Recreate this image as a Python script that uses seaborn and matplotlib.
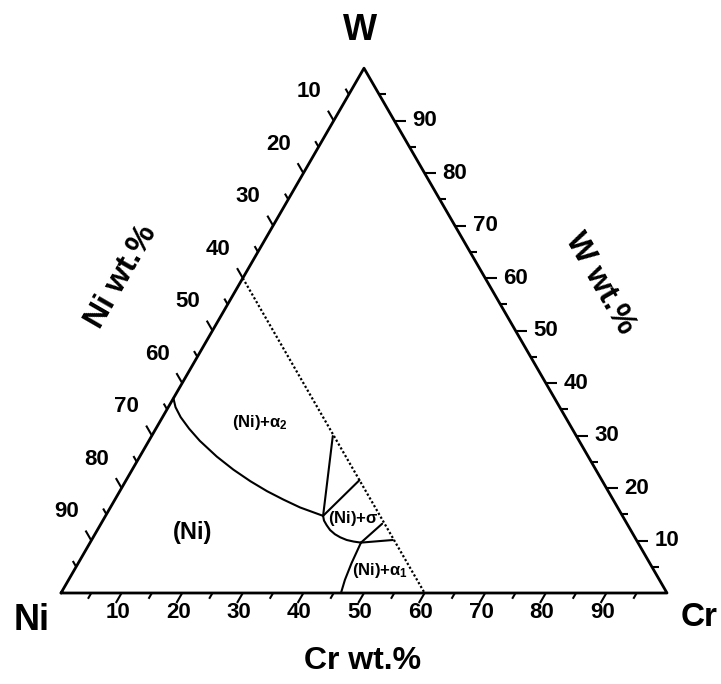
import numpy as np
import pandas as pd
import matplotlib
matplotlib.use("Agg")
import matplotlib.pyplot as plt
import seaborn as sns

sns.set_style("white")
plt.rcParams["font.family"] = ["Liberation Sans", "DejaVu Sans"]
plt.rcParams["font.weight"] = "bold"
plt.rcParams["text.color"] = "black"
plt.rcParams["mathtext.fontset"] = "custom"
for key in ("rm", "it", "bf", "sf"):
    plt.rcParams[f"mathtext.{key}"] = "Liberation Sans:bold"

# ---- data (wt.%) ----
tick_values = [10, 20, 30, 40, 50, 60, 70, 80, 90]
minor_values = [5, 15, 25, 35, 45, 55, 65, 75, 85, 95]

# (Ni) / (Ni)+alpha2 boundary
a2_cr = [0.0, 1.2, 3.0, 5.5, 8.4, 12.7, 16.7, 20.6, 24.3, 27.8, 31.3, 35.9]
a2_w = [37.1, 35.4, 33.5, 31.3, 29.0, 26.0, 23.5, 21.3, 19.4, 17.8, 16.3, 14.7]
# (Ni) / (Ni)+sigma boundary
sig_cr = [35.9, 36.5, 37.4, 38.4, 39.6, 40.8, 42.1, 43.4, 44.7]
sig_w = [14.7, 13.8, 12.9, 12.0, 11.2, 10.6, 10.1, 9.8, 9.6]
# (Ni) / (Ni)+alpha1 boundary
a1_cr = [44.7, 45.1, 45.6, 46.2]
a1_w = [9.6, 5.7, 2.5, 0.0]
# three-phase triangle edges ending on the Ni = 40 section
tie_cr = [[35.9, 29.9], [35.9, 38.5], [44.7, 46.4], [44.7, 49.7]]
tie_w = [[14.7, 29.9], [14.7, 21.5], [9.6, 13.2], [9.6, 10.1]]
# isopleth Ni = 40 wt.%
iso_cr = [0.0, 60.0]
iso_w = [60.0, 0.0]

S3 = np.sqrt(3) / 2


def to_xy(cr, w):
    cr = np.asarray(cr, dtype=float)
    w = np.asarray(w, dtype=float)
    return cr + w / 2, w * S3


PX = 6.06  # pixels per wt.% along an edge
X0, Y0 = 61, 593


def pix(px, py):
    return (px - X0) / PX, (Y0 - py) / PX


fig = plt.figure(figsize=(7.21, 6.84), dpi=100)
ax = fig.add_axes([0, 0, 1, 1])
ax.set_xlim(-X0 / PX, (721 - X0) / PX)
ax.set_ylim(-(684 - Y0) / PX, Y0 / PX)
ax.set_axis_off()


def curve(cr, w, **kw):
    x, y = to_xy(cr, w)
    df = pd.DataFrame({"x": x, "y": y})
    sns.lineplot(data=df, x="x", y="y", sort=False, estimator=None,
                 color="black", ax=ax, legend=False, **kw)


# triangle frame
curve([0, 100, 0, 0], [0, 0, 100, 0], lw=2.0)

# ticks
MAJ, MIN = 1.9, 1.1
d_bottom = np.array([-0.5, -S3])
d_right = np.array([1.0, 0.0])
d_left = np.array([-0.5, S3])
PT = 72 / 100


def tick(p, d, length):
    ax.plot([p[0], p[0] + d[0] * length], [p[1], p[1] + d[1] * length],
            color="black", lw=1.5, solid_capstyle="butt")


for v in tick_values + minor_values:
    L = MAJ if v in tick_values else MIN
    tick(np.array(to_xy(v, 0)), d_bottom, L)
    tick(np.array(to_xy(100 - v, v)), d_right, L)
    tick(np.array(to_xy(0, 100 - v)), d_left, L)

fs_tick = 16
for v in tick_values:
    ax.annotate(str(v), to_xy(v, 0), xytext=(-4 * PT, -20 * PT),
                textcoords="offset points", ha="center", va="center",
                fontsize=fs_tick, fontweight="bold")
    ax.annotate(str(v), to_xy(100 - v, v), xytext=(18 * PT, 0),
                textcoords="offset points", ha="left", va="center",
                fontsize=fs_tick, fontweight="bold")
    ax.annotate(str(v), to_xy(0, 100 - v), xytext=(-25 * PT, 29 * PT),
                textcoords="offset points", ha="center", va="center",
                fontsize=fs_tick, fontweight="bold")

# corner and axis titles
ax.text(*pix(360, 31), "W", ha="center", va="center", fontsize=26, fontweight="bold")
ax.text(*pix(32, 621), "Ni", ha="center", va="center", fontsize=26, fontweight="bold")
ax.text(*pix(699, 617), "Cr", ha="center", va="center", fontsize=24, fontweight="bold")
ax.text(*pix(363, 661), "Cr wt.%", ha="center", va="center", fontsize=23, fontweight="bold")
ax.text(*pix(122, 277), "Ni wt.%", ha="center", va="center", fontsize=23,
        fontweight="bold", rotation=60, rotation_mode="anchor")
ax.text(*pix(600, 283), "W wt.%", ha="center", va="center", fontsize=23,
        fontweight="bold", rotation=-60, rotation_mode="anchor")

# phase boundaries
curve(iso_cr, iso_w, lw=1.6, linestyle=(0, (1, 1)))
curve(a2_cr, a2_w, lw=1.5)
curve(sig_cr, sig_w, lw=1.5)
curve(a1_cr, a1_w, lw=1.5)
for cr, w in zip(tie_cr, tie_w):
    curve(cr, w, lw=1.5)

# phase field labels
ax.text(*pix(260, 423), r"(Ni)+$\alpha_2$", ha="center", va="center", fontsize=12)
ax.text(*pix(193, 532), "(Ni)", ha="center", va="center", fontsize=17)
ax.text(*pix(353, 519), r"(Ni)+$\sigma$", ha="center", va="center", fontsize=12)
ax.text(*pix(380, 571), r"(Ni)+$\alpha_1$", ha="center", va="center", fontsize=12)

fig.savefig("out.png", dpi=100, facecolor="white")
